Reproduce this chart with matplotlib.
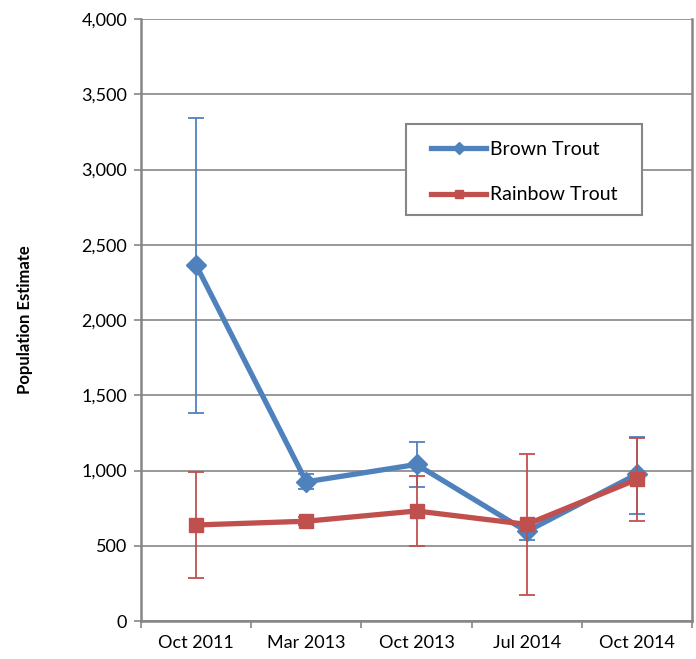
import matplotlib
matplotlib.use("Agg")
import matplotlib.pyplot as plt
from matplotlib.ticker import FuncFormatter, FixedLocator
from matplotlib.patches import Rectangle

categories = ["Oct 2011", "Mar 2013", "Oct 2013", "Jul 2014", "Oct 2014"]
brown = [2365, 925, 1040, 595, 975]
brown_hi = [3342, 975, 1187, 650, 1222]
brown_lo = [1382, 877, 888, 538, 711]
rainbow = [638, 663, 731, 642, 941]
rainbow_hi = [992, 690, 963, 1110, 1214]
rainbow_lo = [284, 640, 498, 171, 664]

plt.rcParams['font.family'] = ['Lato', 'DejaVu Sans']

BLUE = "#4F81BD"
RED = "#C0504D"
GRID = "#868686"

fig = plt.figure(figsize=(6.96, 6.59), dpi=100)
ax = fig.add_axes([141/696, 38/659, 551/696, 602/659])

x = list(range(len(categories)))

def err(v, lo, hi):
    return [[a - b for a, b in zip(v, lo)], [b - a for a, b in zip(v, hi)]]

ax.errorbar(x, brown, yerr=err(brown, brown_lo, brown_hi), fmt='none',
            ecolor=BLUE, elinewidth=1.3, capsize=6, capthick=1.3, zorder=3)
ax.plot(x, brown, color=BLUE, lw=3.8, marker='D', markersize=10,
        label="Brown Trout", zorder=4, solid_joinstyle='round')
ax.errorbar(x, rainbow, yerr=err(rainbow, rainbow_lo, rainbow_hi), fmt='none',
            ecolor=RED, elinewidth=1.3, capsize=6, capthick=1.3, zorder=5)
ax.plot(x, rainbow, color=RED, lw=3.8, marker='s', markersize=10,
        label="Rainbow Trout", zorder=6, solid_joinstyle='round')

ax.set_xlim(-0.5, 4.5)
ax.set_ylim(0, 4000)
ax.set_yticks(range(0, 4001, 500))
ax.yaxis.set_major_formatter(FuncFormatter(lambda v, p: f"{int(v):,}"))
ax.yaxis.grid(True, color=GRID, lw=1.2)
ax.set_axisbelow(True)

ax.xaxis.set_major_locator(FixedLocator([i - 0.5 for i in range(6)]))
ax.xaxis.set_minor_locator(FixedLocator(x))
ax.set_xticklabels([])
ax.set_xticklabels(categories, minor=True)
ax.tick_params(axis='x', which='major', length=5, color=GRID, width=1.2)
ax.tick_params(axis='x', which='minor', length=0, pad=10, labelsize=13)
ax.tick_params(axis='y', length=5, color=GRID, width=1.2, labelsize=13, pad=5)

for s in ['left', 'bottom', 'right']:
    ax.spines[s].set_color(GRID)
    ax.spines[s].set_linewidth(1.8)
ax.spines['top'].set_visible(False)

ax.set_ylabel("Population Estimate", fontsize=12, fontweight='bold')
ax.yaxis.set_label_coords(-0.196, 0.5)

# legend box
ax.add_patch(Rectangle((0.481, 0.6744), 0.428, 0.151, transform=ax.transAxes,
                       facecolor='white', edgecolor=GRID, lw=1.5, zorder=10,
                       clip_on=False))
leg = ax.legend(loc='upper left', bbox_to_anchor=(0.527, 0.797), fontsize=14,
                frameon=False, borderpad=0, handlelength=2.8,
                labelspacing=1.45, handletextpad=0.2,
                borderaxespad=0, markerscale=0.6)
leg.set_zorder(11)

fig.savefig("out.png", dpi=100)
